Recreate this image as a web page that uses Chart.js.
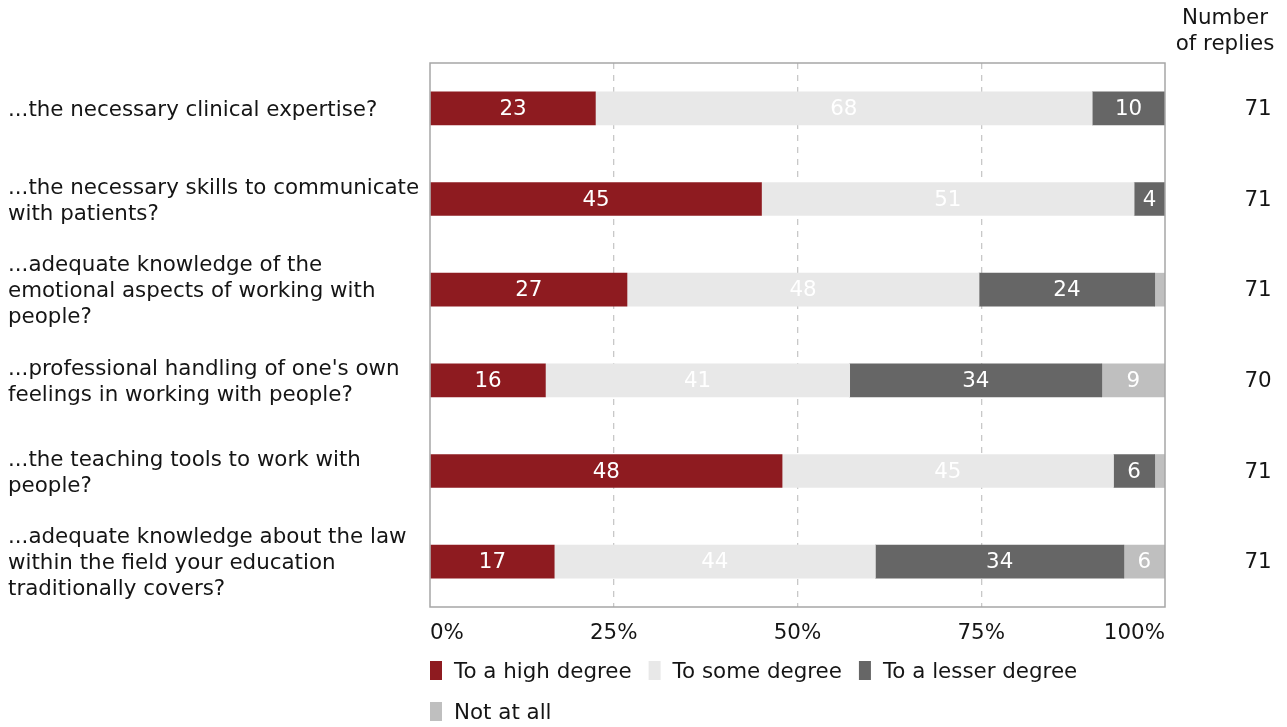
<!DOCTYPE html>
<html><head><meta charset="utf-8">
<script src="https://cdn.jsdelivr.net/npm/chart.js@4/dist/chart.umd.min.js"></script>
<style>html,body{margin:0;padding:0;background:#fff;overflow:hidden}#wrap{width:1287px;height:727px;position:relative}</style>
</head><body><div id="wrap"><canvas id="c" width="1287" height="727"></canvas></div>
<script>
const categories = [
  ["...the necessary clinical expertise?"],
  ["...the necessary skills to communicate", "with patients?"],
  ["...adequate knowledge of the", "emotional aspects of working with", "people?"],
  ["...professional handling of one's own", "feelings in working with people?"],
  ["...the teaching tools to work with", "people?"],
  ["...adequate knowledge about the law", "within the field your education", "traditionally covers?"]
];
const seriesNames = ["To a high degree", "To some degree", "To a lesser degree", "Not at all"];
const highDegree   = [22.5, 45.1, 26.8, 15.7, 47.9, 16.9];
const someDegree   = [67.6, 50.7, 47.9, 41.4, 45.1, 43.7];
const lesserDegree = [9.9, 4.2, 23.9, 34.3, 5.6, 33.8];
const notAtAll     = [0, 0, 1.4, 8.6, 1.4, 5.6];
const replies = [71, 71, 71, 70, 71, 71];
const tickLabels = ["0%", "25%", "50%", "75%", "100%"];
const colors = ["#8e1b20", "#e8e8e8", "#666666", "#bfbfbf"];

const FONT = '"DejaVu Sans", Verdana, sans-serif';
const FS = 21.4;
const TXT = '#151515';

const valueLabels = {
  id: 'valueLabels',
  afterDatasetsDraw(chart) {
    const ctx = chart.ctx, a = chart.chartArea;
    ctx.save();
    ctx.strokeStyle = '#a6a6a6'; ctx.lineWidth = 1.5;
    ctx.strokeRect(a.left, a.top, a.right - a.left, a.bottom - a.top);
    ctx.font = FS + 'px ' + FONT;
    ctx.fillStyle = '#fff'; ctx.textAlign = 'center'; ctx.textBaseline = 'middle';
    chart.data.datasets.forEach((ds, i) => {
      const meta = chart.getDatasetMeta(i);
      meta.data.forEach((bar, j) => {
        const v = ds.data[j];
        if (v < 3) return;
        const p = bar.getProps(['x', 'base', 'y'], true);
        ctx.fillText(String(Math.round(v)), (p.x + p.base) / 2, p.y + 1);
      });
    });
    ctx.restore();
  },
  afterDraw(chart) {
    const ctx = chart.ctx, a = chart.chartArea;
    ctx.save();
    ctx.font = FS + 'px ' + FONT;
    ctx.fillStyle = TXT; ctx.textBaseline = 'middle'; ctx.textAlign = 'center';
    ctx.fillText('Number', 1225, 18);
    ctx.fillText('of replies', 1225, 44);
    const ys = chart.scales.y;
    replies.forEach((n, i) => {
      ctx.fillText(String(n), 1258, ys.getPixelForValue(i) + 1);
    });
    let x = a.left, y = 671;
    ctx.textAlign = 'left';
    chart.data.datasets.forEach(ds => {
      const w = 24 + ctx.measureText(ds.label).width;
      if (x + w > a.right && x > a.left) { x = a.left; y += 41; }
      ctx.fillStyle = ds.backgroundColor;
      ctx.fillRect(x, y - 10, 12, 19);
      ctx.fillStyle = TXT;
      ctx.fillText(ds.label, x + 24, y + 1);
      x += w + 17;
    });
    ctx.restore();
  }
};

const seriesData = [highDegree, someDegree, lesserDegree, notAtAll];
new Chart(document.getElementById('c'), {
  type: 'bar',
  data: {
    labels: categories,
    datasets: seriesNames.map((name, i) => ({
      label: name, data: seriesData[i], backgroundColor: colors[i],
      borderWidth: 0, barThickness: 33
    }))
  },
  options: {
    indexAxis: 'y', responsive: false, animation: false,
    layout: { padding: { left: 8, top: 63, right: 122, bottom: 80 } },
    plugins: { legend: { display: false }, tooltip: { enabled: false } },
    scales: {
      x: {
        stacked: true, min: 0, max: 100,
        afterFit(s) { s.height = 40; },
        ticks: { stepSize: 25, align: 'inner', padding: 14, color: TXT,
                 font: { family: FONT, size: FS },
                 callback: (v) => tickLabels[Math.round(v / 25)] },
        grid: { drawTicks: false,
                color: c => (c.tick && (c.tick.value === 0 || c.tick.value === 100)) ? 'rgba(0,0,0,0)' : '#c8c8c8',
                lineWidth: 1.3 },
        border: { display: false, dash: [6, 6] }
      },
      y: {
        stacked: true,
        afterFit(s) { s.width = 422; },
        ticks: { crossAlign: 'far', labelOffset: 2, color: TXT, font: { family: FONT, size: FS, lineHeight: 1.21 } },
        grid: { display: false }, border: { display: false }
      }
    }
  },
  plugins: [valueLabels]
});
</script></body></html>
